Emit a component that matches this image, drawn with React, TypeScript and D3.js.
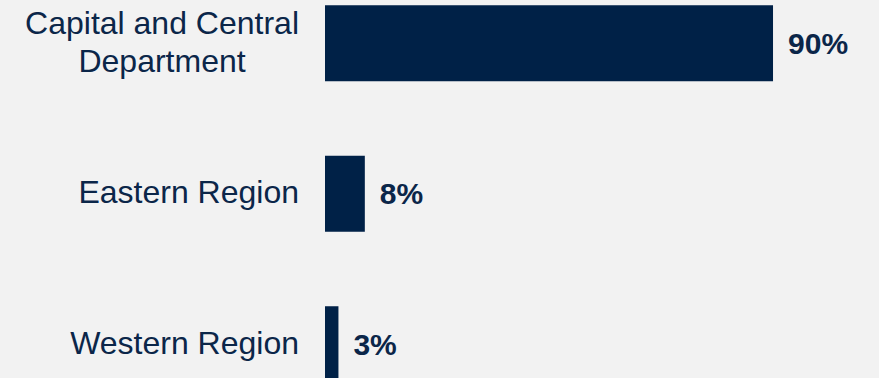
import React, { useEffect, useRef } from "react";
import * as d3 from "d3";

const categories: string[][] = [
  ["Capital and Central", "Department"],
  ["Eastern Region"],
  ["Western Region"],
];
const values: number[] = [90, 8, 2.7];

const W = 879;
const H = 378;
const BG = "#f2f2f2";
const NAVY = "#002147";
const TEXT = "#0b2649";

export default function App() {
  const ref = useRef<SVGSVGElement | null>(null);

  useEffect(() => {
    document.body.style.margin = "0";
    document.body.style.overflow = "hidden";
    const svg = d3.select(ref.current);
    svg.selectAll("*").remove();

    const keys = categories.map((c) => c.join(" "));
    const y = d3
      .scaleBand<string>()
      .domain(keys)
      .range([-32, 419.5])
      .paddingInner(0.495)
      .paddingOuter(0.2475);
    const x = d3.scaleLinear().domain([0, 100]).range([325, 325 + 497.8]);
    const fmt = (v: number) => d3.format(".0f")(v) + "%";

    svg.append("rect").attr("width", W).attr("height", H).attr("fill", BG);

    const g = svg.append("g");
    g.selectAll("rect.bar")
      .data(values)
      .join("rect")
      .attr("class", "bar")
      .attr("x", x(0))
      .attr("y", (_, i) => y(keys[i])!)
      .attr("width", (d) => x(d) - x(0))
      .attr("height", y.bandwidth())
      .attr("fill", NAVY);

    g.selectAll("text.val")
      .data(values)
      .join("text")
      .attr("class", "val")
      .attr("x", (d) => x(d) + 15)
      .attr("y", (_, i) => y(keys[i])! + y.bandwidth() / 2 + 10.5)
      .attr("font-family", "Liberation Sans, Arial, sans-serif")
      .attr("font-weight", "bold")
      .attr("font-size", 30)
      .attr("fill", TEXT)
      .text((d) => fmt(d));

    const labelRight = 299;
    const lineH = 37.5;
    categories.forEach((lines, i) => {
      const cy = y(keys[i])! + y.bandwidth() / 2;
      const t = g
        .append("text")
        .attr("font-family", "Liberation Sans, Arial, sans-serif")
        .attr("font-size", 32)
        .attr("fill", TEXT);
      const spans = lines.map((ln, j) =>
        t
          .append("tspan")
          .attr("y", cy + 9.6 + (j - (lines.length - 1) / 2) * lineH)
          .text(ln)
      );
      const widths = spans.map((s) => (s.node() as SVGTSpanElement).getComputedTextLength());
      const maxW = Math.max(...widths);
      if (lines.length === 1) {
        spans[0].attr("x", labelRight).attr("text-anchor", "end");
      } else {
        spans.forEach((s) => s.attr("x", labelRight - maxW / 2).attr("text-anchor", "middle"));
      }
    });
  }, []);

  return (
    <svg
      ref={ref}
      width={W}
      height={H}
      style={{ position: "absolute", left: 0, top: 0, display: "block" }}
    />
  );
}
